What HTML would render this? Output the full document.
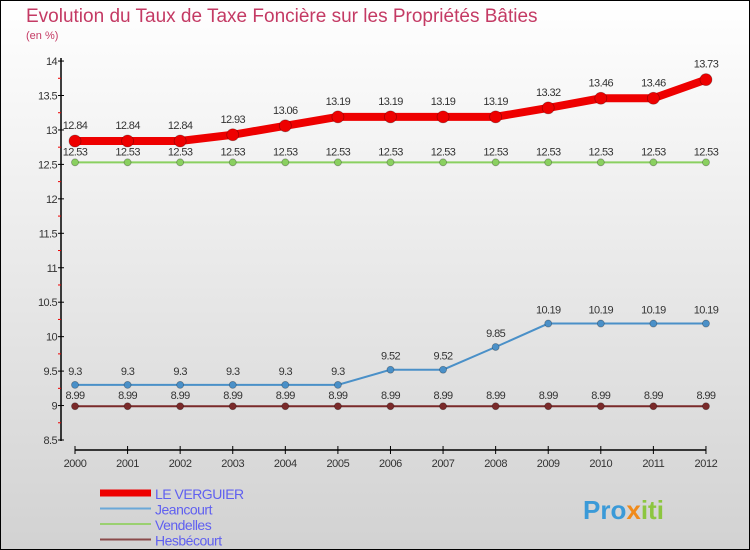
<!DOCTYPE html>
<html><head><meta charset="utf-8"><style>
body{margin:0}
svg{display:block;font-family:"Liberation Sans","DejaVu Sans",sans-serif}
</style></head><body>
<svg id="c" width="750" height="550">
<defs><linearGradient id="bg" x1="0" y1="0" x2="0" y2="1"><stop offset="0" stop-color="#ffffff"/><stop offset="1" stop-color="#d2d2d2"/></linearGradient></defs>
<rect x="0.5" y="0.5" width="749" height="549" fill="url(#bg)" stroke="#000"/>
<text x="26" y="22" font-size="19" fill="#c43a64">Evolution du Taux de Taxe Foncière sur les Propriétés Bâties</text>
<text x="26" y="39" font-size="11" fill="#c43a64">(en %)</text>
<g id="axes"></g><g id="series"></g><g id="legend"></g>
<text x="583" y="519" font-size="26" font-weight="bold" fill="#3a9ad8">Pro<tspan fill="#f08a1a">x</tspan><tspan fill="#8cc63f">iti</tspan></text>
</svg>
<script>
const years=[2000,2001,2002,2003,2004,2005,2006,2007,2008,2009,2010,2011,2012];
const leVerguier=[12.84,12.84,12.84,12.93,13.06,13.19,13.19,13.19,13.19,13.32,13.46,13.46,13.73];
const jeancourt=[9.3,9.3,9.3,9.3,9.3,9.3,9.52,9.52,9.85,10.19,10.19,10.19,10.19];
const vendelles=[12.53,12.53,12.53,12.53,12.53,12.53,12.53,12.53,12.53,12.53,12.53,12.53,12.53];
const hesbecourt=[8.99,8.99,8.99,8.99,8.99,8.99,8.99,8.99,8.99,8.99,8.99,8.99,8.99];
const yTicks=[8.5,9,9.5,10,10.5,11,11.5,12,12.5,13,13.5,14];
const NS='http://www.w3.org/2000/svg';
const X=i=>75+i*52.58;
const Y=v=>440-(v-8.5)*68.9;
function mk(t,a,p){const e=document.createElementNS(NS,t);for(const k in a)e.setAttribute(k,a[k]);p.appendChild(e);return e;}
const ax=document.getElementById('axes');
let e=mk('line',{x1:61,y1:58,x2:61,y2:441,stroke:'#000','stroke-width':1.5},ax);


e=mk('line',{x1:75,y1:450,x2:706,y2:450,stroke:'#000','stroke-width':1.5},ax);


yTicks.forEach(v=>{
  mk('line',{x1:58,y1:Y(v),x2:64,y2:Y(v),stroke:'#000'},ax);
  if(v<14)mk('line',{x1:58,y1:Y(v+0.25),x2:61,y2:Y(v+0.25),stroke:'#e00'},ax);
  const t=mk('text',{x:57,y:Y(v)+4,'font-size':11,'text-anchor':'end',fill:'#333','letter-spacing':'-0.6'},ax);
  t.textContent=String(v);
  
  
});
years.forEach((y,i)=>{
  mk('line',{x1:X(i),y1:446,x2:X(i),y2:454,stroke:'#000'},ax);
  const t=mk('text',{x:X(i),y:467,'font-size':11,'text-anchor':'middle',fill:'#333','letter-spacing':'-0.4'},ax);
  t.textContent=y;
  
  
});
const sg=document.getElementById('series');
const series=[
 {n:'vendelles',d:vendelles,c:'#8ad060',w:2,r:3.5,dy:-7},
 {n:'hesbecourt',d:hesbecourt,c:'#7a2a2a',w:2,r:3.5,dy:-7},
 {n:'jeancourt',d:jeancourt,c:'#4a90c8',w:2,r:3.5,dy:-10},
 {n:'le-verguier',d:leVerguier,c:'#ee0000',w:8,r:6,dy:-12}];
series.forEach(s=>{
  const g=mk('g',{},sg);
  
  
  const p=mk('polyline',{points:s.d.map((v,i)=>X(i)+','+Y(v)).join(' '),fill:'none',stroke:s.c,'stroke-width':s.w},g);
  
  
  s.d.forEach((v,i)=>{
    const c=mk('circle',{cx:X(i),cy:Y(v),r:s.r,fill:s.c,stroke:'rgba(0,0,0,0.3)','stroke-width':0.8},g);
    
    
    const t=mk('text',{x:X(i),y:Y(v)+s.dy,'font-size':11,'text-anchor':'middle',fill:'#333','letter-spacing':'-0.6'},g);
    t.textContent=String(v);
    
    
  });
});
const lg=document.getElementById('legend');
const leg=[['LE VERGUIER','#ee0000',7],['Jeancourt','#6aa8d8',2],['Vendelles','#9ad070',2],['Hesbécourt','#8a4a4a',2]];
leg.forEach((l,i)=>{
  const y=493+i*15.5;
  const g=mk('g',{},lg);
  
  
  mk('line',{x1:100,y1:y,x2:151,y2:y,stroke:l[1],'stroke-width':l[2]},g);
  const t=mk('text',{x:155,y:y+6,'font-size':14,fill:'#6060f0','letter-spacing':'-0.5'},g);
  t.textContent=l[0];
});
</script>
</body></html>
